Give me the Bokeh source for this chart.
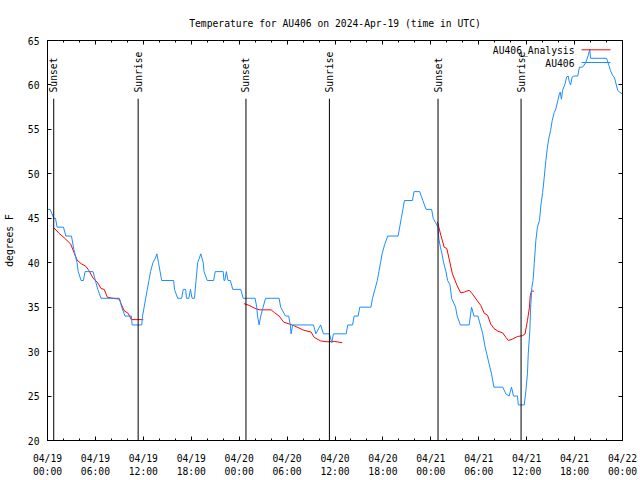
import numpy as np
from bokeh.plotting import figure
from bokeh.models import (Range1d, FixedTicker, DatetimeTickFormatter, DatetimeAxis,
                          LinearAxis, Label, Arrow, CustomJSTickFormatter)
from bokeh.core.properties import value
from bokeh.embed import file_html
from bokeh.resources import INLINE

START = "2024-04-19T00:00"

# observed temperature (hours after start, degrees F)
obs_hours = [0.0, 0.33, 0.8, 1.0, 1.2, 2.0, 2.3, 3.0, 3.3, 3.7, 3.85, 4.2, 4.5, 4.7, 5.7, 6.0, 6.3, 6.7,
             9.0, 9.3, 9.7, 10.5, 10.6, 11.8, 11.9, 12.1, 12.3, 12.5, 12.7, 12.9, 13.2, 13.5, 13.7,
             13.9, 14.1, 14.3, 15.8, 15.9, 16.3, 16.8, 17.0, 17.3, 17.4, 17.7, 17.9, 18.1, 18.4,
             18.6, 18.8, 19.0, 19.2, 19.5, 19.6, 20.0, 20.8, 21.0, 22.0, 22.1, 22.2, 22.4, 22.6,
             22.9, 23.2, 24.2, 24.5, 26.0, 26.2, 26.3, 26.5, 26.7, 27.0, 27.3, 29.0, 29.2, 29.8,
             30.2, 30.4, 30.5, 30.7, 33.3, 33.6, 34.2, 34.55, 35.3, 35.6, 35.8, 37.4, 37.6, 38.2,
             38.4, 38.9, 39.1, 40.5, 40.7, 41.0, 41.3, 41.5, 41.7, 41.9, 42.2, 42.6, 43.9, 44.1,
             44.3, 44.5, 44.7, 45.7, 45.9, 46.6, 47.0, 47.4, 48.1, 48.3, 48.6, 48.9, 49.0, 49.2,
             49.4, 49.6, 49.9, 50.1, 50.4, 50.6, 51.1, 51.3, 51.7, 52.8, 53.1, 53.4, 53.9, 54.2,
             54.5, 54.8, 55.0, 55.3, 55.6, 55.9, 57.0, 57.4, 57.8, 58.1, 58.35, 58.85, 58.95,
             59.7, 59.9, 60.1, 60.2, 60.4, 60.5, 60.65, 60.8, 60.95, 61.15, 61.35, 61.6, 61.8,
             62.0, 62.2, 62.4, 62.6, 62.8, 63.0, 63.2, 63.45, 63.65, 63.9, 64.1, 64.2, 64.35,
             64.5, 64.8, 65.0, 65.2, 65.35, 65.5, 65.7, 65.9, 66.4, 66.6, 67.0, 67.4, 67.7, 67.9,
             68.0, 70.0, 70.3, 70.5, 70.75, 71.0, 71.2, 71.4, 71.6, 72.0]
obs_temps = [46, 46, 45, 45, 44, 44, 43, 43, 41.5, 40, 39, 38, 38, 39, 39, 38, 37, 36,
             36, 35, 34, 34, 33, 33, 34, 35, 36, 37, 38, 39, 40, 40.5, 41,
             40, 39, 38, 38, 37, 36, 36, 37, 37, 36, 36, 37, 36, 36,
             38, 40, 40.5, 41, 40, 39, 38, 38, 39, 39, 38, 38, 39, 38,
             38, 37, 37, 36, 36, 35, 34, 33, 34, 35, 36, 36, 35, 34,
             34, 33, 32, 33, 33, 32, 33, 32, 32, 31, 32, 32, 33, 33,
             34, 34, 35, 35, 36, 37, 38, 39, 40, 41, 42, 43, 43, 44,
             45, 46, 47, 47, 48, 48, 47, 46, 46, 45, 44.5, 44, 42.7, 41.75,
             41, 40, 39, 38, 37.5, 36, 35, 34, 33, 33, 35, 34, 34, 33,
             32, 30.5, 29.75, 28.6, 27.5, 26, 26, 25.25, 25, 26, 25, 25, 24,
             24, 25.6, 27.5, 29.75, 32.4, 35, 37.25, 38, 39.9, 42.5, 44, 44.75, 46.6,
             47.9, 49.6, 51.5, 53, 54.1, 54.9, 56, 56.9, 57.3, 58.25, 59, 59.2, 58.4,
             59.4, 60.1, 60.9, 61, 60.3, 60, 60.9, 61, 61, 62, 62, 62.5, 63.3, 64,
             63, 63, 62.2, 61.6, 61.1, 60.8, 60.1, 59.4, 59.2, 59]

# analysis, three pieces
ana1_hours = [0.83, 1.45, 2.1, 2.9, 3.3, 3.7, 4.2, 4.8, 5.2, 5.75, 6.25, 6.7, 7.1, 7.5, 8.2, 9.0,
              9.2, 9.6, 10.1, 10.5, 11.1, 11.9, 12.0]
ana1_temps = [43.9, 43.3, 42.8, 42.1, 41.2, 40.3, 39.9, 39.6, 39.1, 38.2, 37.8, 37.1, 37.0, 36.1,
              36.0, 35.9, 35.4, 34.6, 34.3, 33.6, 33.6, 33.6, 33.6]
ana2_hours = [24.6, 25.25, 25.9, 26.5, 28.0, 28.4, 29.0, 29.6, 30.3, 30.9, 32.1, 33.0, 33.4, 34.2,
              35.1, 35.9, 36.9]
ana2_temps = [35.4, 35.2, 34.9, 34.7, 34.7, 34.4, 34.0, 33.3, 33.1, 32.9, 32.4, 32.2, 31.6, 31.2,
              31.1, 31.15, 31.0]
ana3_hours = [48.83, 49.25, 49.67, 50.0, 50.3, 50.7, 51.3, 51.75, 52.2, 52.8, 53.2, 53.8, 54.25,
              54.7, 55.1, 55.5, 55.9, 56.4, 57.0, 57.4, 57.7, 58.2, 58.85, 59.5, 59.8, 60.1,
              60.35, 60.45, 60.6, 60.9]
ana3_temps = [44.6, 43.1, 41.75, 41.6, 40.4, 38.75, 37.4, 36.6, 36.7, 36.9, 36.5, 35.75, 35.2,
              34.3, 34.1, 33.1, 32.6, 32.3, 32.1, 31.6, 31.25, 31.4, 31.7, 31.8, 32.0, 33.5,
              35.0, 36.3, 36.8, 36.8]

sunset_hours = [0.78, 24.85, 48.9]
sunrise_hours = [11.35, 35.3, 59.3]

x_major_hours = list(range(0, 73, 6))
x_minor_hours = list(range(0, 73, 2))
y_ticks = [20, 25, 30, 35, 40, 45, 50, 55, 60, 65]

TITLE = "Temperature for AU406 on 2024-Apr-19 (time in UTC)"
FONT = "DejaVu Sans Mono"
FS = "9.7px"
BLUE = "#1E8CFF"
RED = "#FF0000"

base = np.datetime64(START, "ms")
base_ms = base.astype("int64")


def to_dt(hours):
    secs = np.round(np.asarray(hours, dtype=float) * 3600).astype("int64")
    return base + secs.astype("timedelta64[s]")


def to_ms(hours):
    return [float(base_ms + h * 3600000) for h in hours]


p = figure(width=640, height=480, x_axis_type="datetime", output_backend="svg",
           toolbar_location=None, title=TITLE,
           min_border_left=47, min_border_right=18, min_border_top=40, min_border_bottom=40,
           x_range=Range1d(to_ms([0])[0], to_ms([72])[0]), y_range=Range1d(20, 65))

p.title.text_font = FONT
p.title.text_font_size = FS
p.title.text_font_style = "normal"
p.title.text_color = "black"
p.title.align = "center"
p.title.standoff = 24

p.grid.visible = False
p.outline_line_color = "black"
p.background_fill_color = "white"
p.border_fill_color = "white"

xt = FixedTicker(ticks=to_ms(x_major_hours), minor_ticks=to_ms(x_minor_hours))
fmt_str = "%m/%d\n%H:%M"
xf = DatetimeTickFormatter(milliseconds=fmt_str, seconds=fmt_str, minsec=fmt_str, minutes=fmt_str,
                           hourmin=fmt_str, hours=fmt_str, days=fmt_str, months=fmt_str,
                           years=fmt_str)
yt = FixedTicker(ticks=y_ticks, minor_ticks=[])
blank = CustomJSTickFormatter(code="return ''")


def style_axis(ax):
    ax.axis_line_color = "black"
    ax.major_tick_line_color = "black"
    ax.minor_tick_line_color = "black"
    ax.major_tick_in = 4
    ax.major_tick_out = 0
    ax.minor_tick_in = 2
    ax.minor_tick_out = 0
    ax.major_label_text_font = FONT
    ax.major_label_text_font_size = FS
    ax.major_label_text_color = "black"


xb = p.xaxis[0]
xb.ticker = xt
xb.formatter = xf
style_axis(xb)
xb.major_label_standoff = 12

yl = p.yaxis[0]
yl.ticker = yt
style_axis(yl)
yl.major_label_standoff = 8
yl.axis_label = "degrees F"
yl.axis_label_text_font = FONT
yl.axis_label_text_font_size = FS
yl.axis_label_text_font_style = "normal"
yl.axis_label_text_color = "black"
yl.axis_label_standoff = 10

# mirrored tick marks on top and right, without labels
top = DatetimeAxis(ticker=xt, formatter=blank)
style_axis(top)
top.major_label_standoff = 0
p.add_layout(top, "above")

right = LinearAxis(ticker=yt, formatter=blank)
style_axis(right)
right.major_label_standoff = 0
p.add_layout(right, "right")

# analysis line (drawn first so observations lie on top)
for hrs, tmp in ((ana1_hours, ana1_temps), (ana2_hours, ana2_temps), (ana3_hours, ana3_temps)):
    p.line(to_dt(hrs), tmp, line_color=RED, line_width=1)

p.line(to_dt(obs_hours), obs_temps, line_color=BLUE, line_width=1)

# sunrise / sunset markers
LINE_TOP = 58.45
LABEL_Y = 59.15
for hrs, name in ((sunset_hours, "Sunset"), (sunrise_hours, "Sunrise")):
    xs = to_dt(hrs)
    p.segment(x0=xs, y0=[20] * len(hrs), x1=xs, y1=[LINE_TOP] * len(hrs),
              line_color="black", line_width=1)
    p.text(x=xs, y=[LABEL_Y] * len(hrs), text=[name] * len(hrs), angle=np.pi / 2,
           text_align="left", text_baseline="middle", text_font=value(FONT),
           text_font_size=FS, text_color="black")

# legend (gnuplot style: text then sample to its right)
legend_rows = [("AU406_Analysis", RED), ("AU406", BLUE)]
for i, (txt, col) in enumerate(legend_rows):
    ty = 389.7 - i * 12.7
    p.add_layout(Label(x=527, y=ty, x_units="screen", y_units="screen", text=txt,
                       text_align="right", text_baseline="middle", text_font=FONT,
                       text_font_size=FS, text_color="black"))
    p.add_layout(Arrow(start=None, end=None, x_start=534, y_start=ty + 1, x_end=563, y_end=ty + 1,
                       start_units="screen", end_units="screen", line_color=col, line_width=1))

open("out.html", "w").write(file_html(p, INLINE))
